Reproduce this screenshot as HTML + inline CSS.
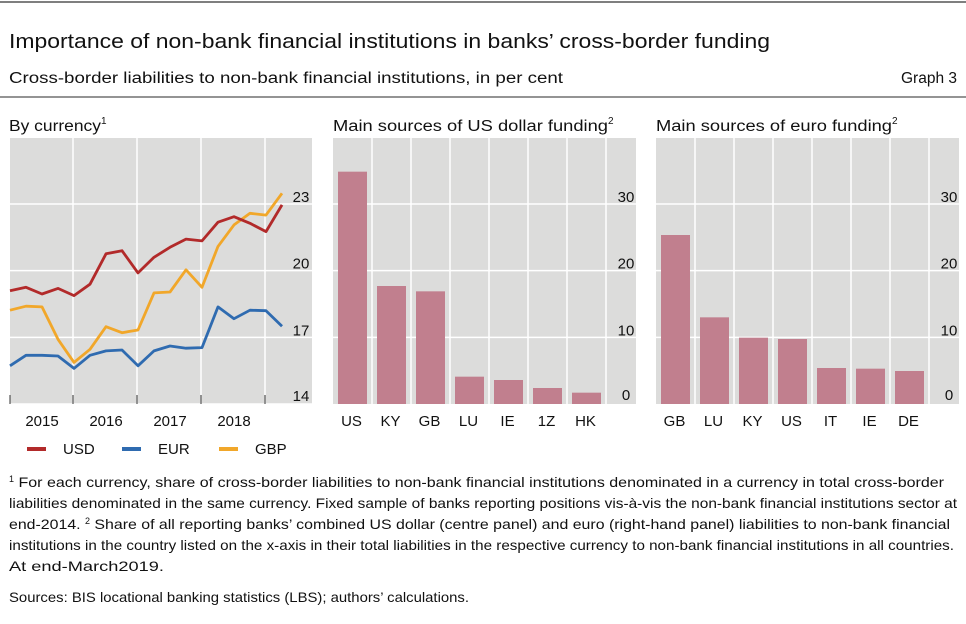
<!DOCTYPE html>
<html><head><meta charset="utf-8"><style>
body{margin:0;background:#fff;}
svg{display:block;font-family:"Liberation Sans",sans-serif;}
</style></head><body>
<svg width="966" height="624" viewBox="0 0 966 624">
<line x1="0" y1="2" x2="966" y2="2" stroke="#555" stroke-width="1.5"/>
<text x="9" y="48" font-size="20.5" fill="#111" textLength="761" lengthAdjust="spacingAndGlyphs">Importance of non-bank financial institutions in banks’ cross-border funding</text>
<text x="9" y="83" font-size="15.5" fill="#111" textLength="554" lengthAdjust="spacingAndGlyphs">Cross-border liabilities to non-bank financial institutions, in per cent</text>
<text x="957" y="83" font-size="15.5" fill="#111" text-anchor="end">Graph 3</text>
<line x1="0" y1="97" x2="966" y2="97" stroke="#555" stroke-width="1.2"/>
<text x="9" y="131" font-size="15.5" fill="#111"><tspan textLength="92" lengthAdjust="spacingAndGlyphs">By currency</tspan><tspan font-size="10" dy="-7">1</tspan></text>
<text x="333" y="131" font-size="15.5" fill="#111"><tspan textLength="275" lengthAdjust="spacingAndGlyphs">Main sources of US dollar funding</tspan><tspan font-size="10" dy="-7">2</tspan></text>
<text x="656" y="131" font-size="15.5" fill="#111"><tspan textLength="236" lengthAdjust="spacingAndGlyphs">Main sources of euro funding</tspan><tspan font-size="10" dy="-7">2</tspan></text>
<g id="p1"></g>
<g id="p2"></g>
<g id="p3"></g>
<g font-size="15" fill="#111">
<g><line x1="27" y1="449" x2="46" y2="449" stroke="#b22a2a" stroke-width="4"/><text x="63" y="454">USD</text></g>
<g><line x1="122" y1="449" x2="141" y2="449" stroke="#2f6bb0" stroke-width="4"/><text x="158" y="454">EUR</text></g>
<g><line x1="219" y1="449" x2="238" y2="449" stroke="#f1a72a" stroke-width="4"/><text x="255" y="454">GBP</text></g>
</g>
<g font-size="13.6" fill="#111">
<text x="9" y="487"><tspan font-size="9" dy="-5">1</tspan><tspan dy="5" textLength="930" lengthAdjust="spacingAndGlyphs">  For each currency, share of cross-border liabilities to non-bank financial institutions denominated in a currency in total cross-border</tspan></text>
<text x="9" y="508" textLength="948" lengthAdjust="spacingAndGlyphs">liabilities denominated in the same currency. Fixed sample of banks reporting positions vis-à-vis the non-bank financial institutions sector at</text>
<text x="9" y="529"><tspan textLength="76" lengthAdjust="spacingAndGlyphs">end-2014.   </tspan><tspan font-size="9" dy="-5">2</tspan><tspan dy="5" textLength="860" lengthAdjust="spacingAndGlyphs">  Share of all reporting banks’ combined US dollar (centre panel) and euro (right-hand panel) liabilities to non-bank financial</tspan></text>
<text x="9" y="550" textLength="945" lengthAdjust="spacingAndGlyphs">institutions in the country listed on the x-axis in their total liabilities in the respective currency to non-bank financial institutions in all countries.</text>
<text x="9" y="571" textLength="155" lengthAdjust="spacingAndGlyphs">At end-March2019.</text>
<text x="9" y="602" textLength="460" lengthAdjust="spacingAndGlyphs">Sources: BIS locational banking statistics (LBS); authors’ calculations.</text>
</g>
</svg>
<script>
const quarters = ["2014Q4","2015Q1","2015Q2","2015Q3","2015Q4","2016Q1","2016Q2","2016Q3","2016Q4","2017Q1","2017Q2","2017Q3","2017Q4","2018Q1","2018Q2","2018Q3","2018Q4","2019Q1"];
const usdValues = [19.1,19.25,18.95,19.2,18.88,19.39,20.76,20.9,19.9,20.6,21.05,21.42,21.34,22.18,22.43,22.13,21.76,22.96];
const eurValues = [15.72,16.19,16.19,16.16,15.6,16.19,16.39,16.43,15.72,16.39,16.61,16.51,16.54,18.37,17.84,18.22,18.2,17.5];
const gbpValues = [18.22,18.4,18.37,16.91,15.87,16.46,17.48,17.21,17.33,19.0,19.04,20.04,19.25,21.09,22.06,22.58,22.5,23.48];
const lineTicks = [14,17,20,23];
const yearLabels = ["2015","2016","2017","2018"];
const usdCats = ["US","KY","GB","LU","IE","1Z","HK"];
const usdBars = [34.85,17.7,16.9,4.1,3.6,2.4,1.7];
const eurCats = ["GB","LU","KY","US","IT","IE","DE"];
const eurBars = [25.35,13.0,9.95,9.75,5.4,5.3,4.95];
const barTicks = [0,10,20,30];

const NS="http://www.w3.org/2000/svg";
function mk(parent,tag,attrs,txt){const e=document.createElementNS(NS,tag);for(const k in attrs)e.setAttribute(k,attrs[k]);if(txt!==undefined)e.textContent=txt;parent.appendChild(e);return e;}

(function(){
  const g=document.getElementById('p1');
  const L=10,R=312,T=138,B=404;
  const y=v=>B-(v-14)/9*(B-204);
  const x=i=>L+i*16;
  const bg=mk(g,'rect',{x:L,y:T,width:R-L,height:B-T,fill:'#dcdcdb'});
  
  lineTicks.forEach(t=>{
    const gl=mk(g,'line',{x1:L,x2:R,y1:y(t),y2:y(t),stroke:'#fff','stroke-width':1.5});
    
    const tl=mk(g,'text',{x:301,y:y(t)+(t===14?-3:-2),'font-size':15,'text-anchor':'middle',fill:'#111'},String(t));
    
  });
  for(let k=1;k<=4;k++){
    const xv=x(k*4)-1;
    const vl=mk(g,'line',{x1:xv,x2:xv,y1:T,y2:B,stroke:'#fff','stroke-width':1.5});
    
  }
  for(let k=0;k<=4;k++){
    const xv=k===0?L:x(k*4)-1;
    const tk=mk(g,'line',{x1:xv,x2:xv,y1:B-9,y2:B,stroke:'#333','stroke-width':1});
    
  }
  yearLabels.forEach((lab,k)=>{
    const tl=mk(g,'text',{x:x(k*4+2),y:426,'font-size':15,'text-anchor':'middle',fill:'#111'},lab);
    
  });
  [[eurValues,'#2f6bb0','eur-line'],[gbpValues,'#f1a72a','gbp-line'],[usdValues,'#b22a2a','usd-line']].forEach(([vals,c,n])=>{
    const p=mk(g,'polyline',{points:vals.map((v,i)=>x(i)+','+y(v).toFixed(1)).join(' '),fill:'none',stroke:c,'stroke-width':2.8,'stroke-linejoin':'round'});
    
  });
})();

function barPanel(id,L,cats,vals){
  const g=document.getElementById(id);
  const R=L+303,T=138,B=404,cw=39;
  const y=v=>B-v*(B-204)/30;
  const bg=mk(g,'rect',{x:L,y:T,width:R-L,height:B-T,fill:'#dcdcdb'});
  
  barTicks.forEach(t=>{
    if(t>0){const gl=mk(g,'line',{x1:L,x2:R,y1:y(t),y2:y(t),stroke:'#fff','stroke-width':1.5});
    }
    const tl=mk(g,'text',{x:L+293,y:y(t)-(t===0?4:2),'font-size':15,'text-anchor':'middle',fill:'#111'},String(t));
    
  });
  cats.forEach((c,i)=>{
    const xv=L+cw*(i+1);
    const vl=mk(g,'line',{x1:xv,x2:xv,y1:T,y2:B,stroke:'#fff','stroke-width':1.5});
    
    const b=mk(g,'rect',{x:L+cw*i+5,y:y(vals[i]),width:cw-10,height:B-y(vals[i]),fill:'#c17f8e'});
    
    const tl=mk(g,'text',{x:L+cw*i+cw/2-1,y:426,'font-size':15,'text-anchor':'middle',fill:'#111'},c);
    
  });
}
barPanel('p2',333,usdCats,usdBars);
barPanel('p3',656,eurCats,eurBars);
</script>
</body></html>
